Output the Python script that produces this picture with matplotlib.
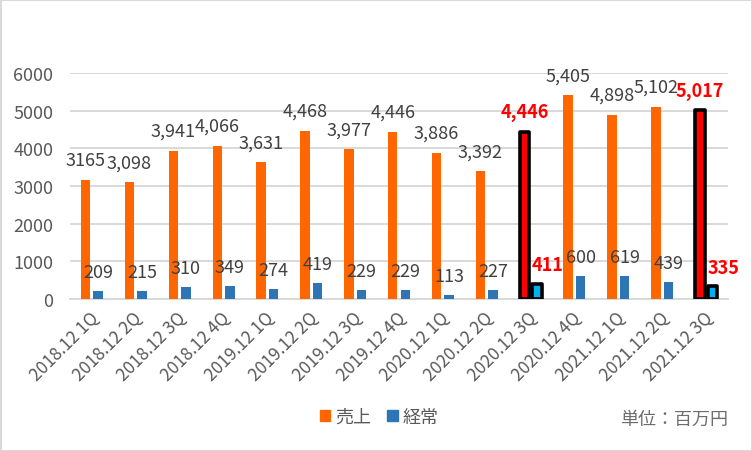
import numpy as np
import matplotlib.pyplot as plt
import matplotlib.patches as mpatches

plt.rcParams['font.family'] = ['Noto Sans CJK JP', 'DejaVu Sans']

# データ
quarters = ["2018.12 1Q", "2018.12 2Q", "2018.12 3Q", "2018.12 4Q",
            "2019.12 1Q", "2019.12 2Q", "2019.12 3Q", "2019.12 4Q",
            "2020.12 1Q", "2020.12 2Q", "2020.12 3Q", "2020.12 4Q",
            "2021.12 1Q", "2021.12 2Q", "2021.12 3Q"]
sales = [3165, 3098, 3941, 4066, 3631, 4468, 3977, 4446, 3886, 3392,
         4446, 5405, 4898, 5102, 5017]
ordinary = [209, 215, 310, 349, 274, 419, 229, 229, 113, 227,
            411, 600, 619, 439, 335]
sales_labels = ["3165", "3,098", "3,941", "4,066", "3,631", "4,468", "3,977",
                "4,446", "3,886", "3,392", "4,446", "5,405", "4,898", "5,102",
                "5,017"]
highlight = [10, 14]

ORANGE = "#FF6600"
BLUE = "#2E75B6"
GRID = "#D9D9D9"
TXT = "#404040"

fig = plt.figure(figsize=(7.52, 4.52), dpi=100)
fig.patch.set_edgecolor(GRID)
fig.patch.set_linewidth(2)
ax = fig.add_axes([70 / 752, 1 - 300 / 452, 658 / 752, 226 / 452])

x = np.arange(len(quarters))
w = 0.217
off = 0.143

s_col = [("#FF0000" if i in highlight else ORANGE) for i in x]
o_col = [("#00B0F0" if i in highlight else BLUE) for i in x]
edges = [("black" if i in highlight else "none") for i in x]
lws = [(2.6 if i in highlight else 0) for i in x]

b1 = ax.bar(x - off, sales, w, color=s_col, edgecolor=edges, linewidth=lws, zorder=3)
b2 = ax.bar(x + off, ordinary, w, color=o_col, edgecolor=edges, linewidth=lws, zorder=3)
for b in list(b1) + list(b2):
    b.set_joinstyle("round")

# データラベル
for i in x:
    hl = i in highlight
    ax.annotate(sales_labels[i], (i - off, sales[i]), xytext=(0, 20),
                textcoords="offset pixels", ha="center", va="center",
                fontsize=13, color="red" if hl else TXT,
                fontweight="bold" if hl else "normal", annotation_clip=False)
    ax.annotate(str(ordinary[i]), (i + off, ordinary[i]),
                xytext=(11 if hl else 0, 19), textcoords="offset pixels",
                ha="center", va="center", fontsize=13,
                color="red" if hl else TXT,
                fontweight="bold" if hl else "normal", annotation_clip=False)

ax.set_xlim(-0.5, len(quarters) - 0.5)
ax.set_ylim(0, 6000)
ax.set_yticks(range(0, 6001, 1000))
ax.yaxis.grid(True, color=GRID, linewidth=1.4, zorder=0)
ax.set_axisbelow(True)
for s in ["top", "right", "left"]:
    ax.spines[s].set_visible(False)
ax.spines["bottom"].set_color(GRID)
ax.spines["bottom"].set_linewidth(1.4)
ax.tick_params(axis="y", length=0, pad=12, labelsize=13, labelcolor="#595959")
ax.tick_params(axis="x", length=0, pad=11)
ax.set_xticks(x + 0.08)
ax.set_xticklabels(quarters, rotation=45, ha="right", va="center",
                   rotation_mode="anchor", fontsize=12.5, color="#595959")

# 凡例
handles = [mpatches.Patch(color=ORANGE, label="売上"),
           mpatches.Patch(color=BLUE, label="経常")]
leg = fig.legend(handles=handles, loc="center", bbox_to_anchor=(379 / 752, 1 - 418 / 452),
                 ncol=2, frameon=False, handlelength=0.6, handleheight=0.6,
                 handletextpad=0.25, columnspacing=0.9, fontsize=13)
for t in leg.get_texts():
    t.set_color("#595959")

fig.text(728 / 752, 1 - 420 / 452, "単位：百万円", ha="right", va="center",
         fontsize=13, color="#6d6d6d")

fig.savefig("out.png", dpi=100)
